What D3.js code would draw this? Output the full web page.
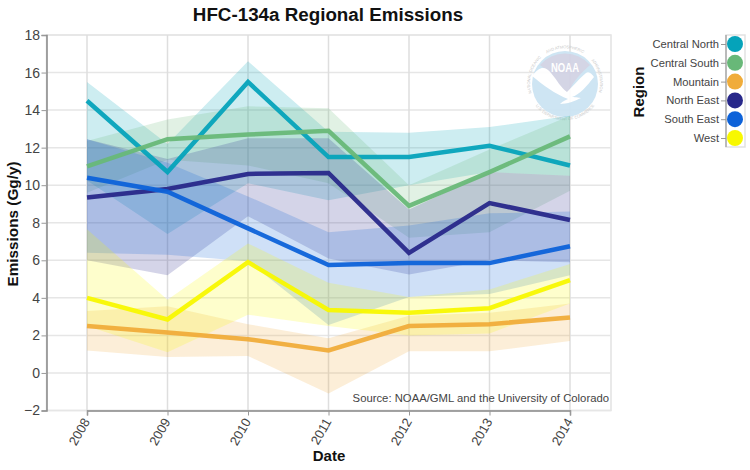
<!DOCTYPE html>
<html>
<head>
<meta charset="utf-8">
<script src="https://cdn.jsdelivr.net/npm/d3@7"></script>
<style>
  html, body { margin: 0; padding: 0; background: #fff; }
  text { font-family: "Liberation Sans", Arial, sans-serif; }
</style>
</head>
<body>
<svg width="750" height="470"></svg>
<script>
const YEARS = ['2008', '2009', '2010', '2011', '2012', '2013', '2014'];
const REGIONS = ['Central North', 'Central South', 'Mountain', 'North East', 'South East', 'West'];
const COLORS = ['#05a3ba', '#68b878', '#f0ac3a', '#28288a', '#0d62d9', '#f8f800'];
const Y_TICKS = [-2, 0, 2, 4, 6, 8, 10, 12, 14, 16, 18];

const centralNorth = [14.5, 10.7, 15.5, 11.5, 11.5, 12.1, 11.05];
const centralNorthHigh = [15.5, 12.2, 16.6, 12.85, 12.8, 13.1, 13.7];
const centralNorthLow = [10.25, 7.4, 10.1, 9.2, 10.0, 10.7, 10.5];

const centralSouth = [11.0, 12.45, 12.7, 12.9, 8.9, 10.7, 12.6];
const centralSouthHigh = [12.35, 13.5, 14.2, 14.1, 10.0, 11.9, 13.7];
const centralSouthLow = [9.6, 11.35, 11.05, 10.1, 7.2, 7.5, 9.7];

const mountain = [2.5, 2.15, 1.8, 1.2, 2.5, 2.6, 2.95];
const mountainHigh = [3.3, 3.55, 2.6, 1.85, 3.05, 3.2, 3.7];
const mountainLow = [1.2, 0.85, 0.9, -1.1, 1.15, 1.15, 1.7];

const northEast = [9.35, 9.8, 10.6, 10.65, 6.4, 9.05, 8.15];
const northEastHigh = [12.45, 11.4, 12.5, 12.5, 8.7, 10.7, 10.5];
const northEastLow = [6.0, 5.2, 8.35, 6.1, 5.25, 6.0, 5.9];

const southEast = [10.4, 9.65, 7.7, 5.75, 5.85, 5.85, 6.75];
const southEastHigh = [12.45, 11.2, 9.4, 7.5, 7.85, 8.5, 8.6];
const southEastLow = [6.4, 6.3, 5.95, 2.55, 4.05, 4.2, 5.2];

const west = [4.0, 2.85, 5.9, 3.35, 3.2, 3.45, 4.95];
const westHigh = [7.65, 3.9, 6.9, 4.8, 4.05, 4.45, 5.8];
const westLow = [2.5, 1.1, 3.1, 2.5, 2.0, 2.1, 3.7];

const SERIES = [
  [centralNorth, centralNorthHigh, centralNorthLow],
  [centralSouth, centralSouthHigh, centralSouthLow],
  [mountain, mountainHigh, mountainLow],
  [northEast, northEastHigh, northEastLow],
  [southEast, southEastHigh, southEastLow],
  [west, westHigh, westLow],
];

const svg = d3.select('svg');
const plotLeft = 46.5, plotRight = 611, plotTop = 35, plotBottom = 410.5;

const xScale = d3.scalePoint().domain(YEARS).range([87, 570]);
const yScale = d3.scaleLinear().domain([-2, 18]).range([plotBottom, plotTop]);
const colorScale = d3.scaleOrdinal().domain(REGIONS).range(COLORS);

// grid
svg.append('rect').attr('x', plotLeft).attr('y', plotTop).attr('width', plotRight - plotLeft).attr('height', plotBottom - plotTop)
  .attr('fill', 'none').attr('stroke', '#e2e2e2').attr('stroke-width', 1.5);
svg.append('g').selectAll('line').data(Y_TICKS).enter().append('line')
  .attr('x1', plotLeft).attr('x2', plotRight)
  .attr('y1', (d) => yScale(d)).attr('y2', (d) => yScale(d))
  .attr('stroke', '#e6e6e6').attr('stroke-width', 1.5);
svg.append('g').selectAll('line').data(YEARS).enter().append('line')
  .attr('x1', (d) => xScale(d)).attr('x2', (d) => xScale(d))
  .attr('y1', plotTop).attr('y2', plotBottom)
  .attr('stroke', '#dedede').attr('stroke-width', 1.5);

// noaa logo
const logo = svg.append('g').attr('transform', 'translate(565,83)').attr('opacity', 0.95);
logo.append('circle').attr('r', 33).attr('cy', 1).attr('fill', '#cce4f3');
logo.append('path').attr('d', 'M-25,-18 A33,33 0 0 1 25,-18 C17,-11 8,-2 3,10 C0,10 -2,9 -4,8 C-9,-2 -17,-13 -25,-18 Z').attr('fill', '#d2d3e4');
logo.append('path').attr('d', 'M-33,-7 C-25,-17 -20,-17 -14,-10 C-8,-3 -4,5 2,9 C8,3 13,-3 21,-10 C24,-12 27,-9 29,-6 C22,3 14,12 7,14 C11,14 15,15 16,15 C10,18 2,21 -5,21 C-2,18 1,17 3,16 C-10,11 -22,2 -33,-7 Z').attr('fill', '#fff');
logo.append('text').attr('y', -11).attr('text-anchor', 'middle').attr('fill', '#fff')
  .attr('font-size', 12).attr('font-weight', 'bold').attr('textLength', 28).attr('lengthAdjust', 'spacingAndGlyphs').text('NOAA');
logo.append('path').attr('id', 'ringTop').attr('d', 'M-33,12 A35,35 0 1 1 33,12').attr('fill', 'none');
logo.append('path').attr('id', 'ringBottom').attr('d', 'M-33,17 A37,37 0 0 0 33,17').attr('fill', 'none');

// three pieces on the top ring, a single curved text would cover the middle of the logo
const ringText = (word, href, offset) => {
  logo.append('text').attr('font-size', 4).attr('fill', '#c8c8c8').append('textPath').attr('href', href)
    .attr('startOffset', `${offset}%`).attr('text-anchor', 'middle').text(word);
};
ringText('NATIONAL OCEANIC', '#ringTop', 16);
ringText('AND ATMOSPHERIC', '#ringTop', 50);
ringText('ADMINISTRATION', '#ringTop', 85);
ringText('U.S. DEPARTMENT OF COMMERCE', '#ringBottom', 50);

// bands then lines
const area = d3.area().x((d) => xScale(d.year)).y0((d) => yScale(d.low)).y1((d) => yScale(d.high));
const line = d3.line().x((d) => xScale(d.year)).y((d) => yScale(d.value));

SERIES.forEach((series, i) => {
  const rows = YEARS.map((year, j) => ({ year, value: series[0][j], high: series[1][j], low: series[2][j] }));
  svg.append('path').datum(rows).attr('d', area).attr('fill', colorScale(REGIONS[i])).attr('opacity', 0.2);
});
SERIES.forEach((series, i) => {
  const rows = YEARS.map((year, j) => ({ year, value: series[0][j] }));
  svg.append('path').datum(rows).attr('d', line).attr('fill', 'none')
    .attr('stroke', colorScale(REGIONS[i])).attr('stroke-width', 4.5).attr('opacity', 0.95);
});

// axes
const yAxis = svg.append('g').attr('transform', `translate(${plotLeft},0)`)
  .call(d3.axisLeft(yScale).tickValues(Y_TICKS).tickSize(5).tickPadding(1.5));
yAxis.selectAll('text').attr('font-size', 14).attr('fill', '#444').style('font-family', '"Liberation Sans", Arial, sans-serif');

const xAxis = svg.append('g').attr('transform', `translate(0,${plotBottom})`)
  .call(d3.axisBottom(xScale).tickSize(5).tickPadding(3));
xAxis.selectAll('text').attr('font-size', 13).attr('fill', '#444')
  .style('font-family', '"Liberation Sans", Arial, sans-serif')
  .attr('text-anchor', 'end').attr('dx', 0).attr('dy', 0)
  .attr('transform', 'translate(-4,7) rotate(-60)');
[yAxis, xAxis].forEach((axis) => {
  axis.select('.domain').attr('stroke', '#888').attr('stroke-width', 1.5);
  axis.selectAll('.tick line').attr('stroke', '#999');
});

// titles
svg.append('text').attr('x', 328).attr('y', 21).attr('text-anchor', 'middle')
  .attr('font-size', 18.8).attr('font-weight', 'bold').attr('fill', '#111').text('HFC-134a Regional Emissions');
svg.append('text').attr('transform', 'translate(18,224) rotate(-90)').attr('text-anchor', 'middle')
  .attr('font-size', 15.3).attr('font-weight', 'bold').attr('fill', '#111').text('Emissions (Gg/y)');
svg.append('text').attr('x', 329).attr('y', 461).attr('text-anchor', 'middle')
  .attr('font-size', 15).attr('font-weight', 'bold').attr('fill', '#111').text('Date');
svg.append('text').attr('x', 609).attr('y', 402).attr('text-anchor', 'end')
  .attr('font-size', 11.3).attr('fill', '#444').text('Source: NOAA/GML and the University of Colorado');

// legend
const legendY = d3.scalePoint().domain(REGIONS).range([44, 138]);
svg.append('rect').attr('x', 726).attr('y', 35).attr('width', 19).attr('height', 112)
  .attr('fill', 'none').attr('stroke', '#e2e2e2').attr('stroke-width', 1.5);
const legendAxis = svg.append('g').attr('transform', 'translate(726,0)')
  .call(d3.axisLeft(legendY).tickSize(5).tickPadding(2));
legendAxis.select('.domain').attr('d', 'M0,35V147').attr('stroke', '#aaa').attr('stroke-width', 1.5);
legendAxis.selectAll('.tick line').attr('stroke', '#999');
legendAxis.selectAll('text').attr('font-size', 11.2).attr('fill', '#444')
  .style('font-family', '"Liberation Sans", Arial, sans-serif');
svg.append('g').selectAll('circle').data(REGIONS).enter().append('circle')
  .attr('cx', 735).attr('cy', (d) => legendY(d)).attr('r', 8)
  .attr('fill', (d) => colorScale(d));
svg.append('text').attr('transform', 'translate(644,92) rotate(-90)').attr('text-anchor', 'middle')
  .attr('font-size', 15).attr('font-weight', 'bold').attr('fill', '#111').text('Region');
</script>
</body>
</html>
